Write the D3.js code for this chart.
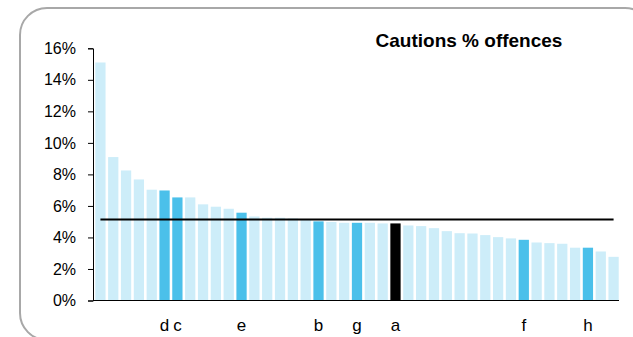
<!DOCTYPE html>
<html>
<head>
<meta charset="utf-8">
<script src="https://cdn.jsdelivr.net/npm/d3@7"></script>
<style>
  html, body { margin: 0; padding: 0; background: #fff; }
  svg { display: block; font-family: "Liberation Sans", Arial, sans-serif; }
</style>
</head>
<body>
<svg id="chart" width="633" height="337"></svg>
<script>
// ---- data ----
const values = [15.1, 9.1, 8.25, 7.68, 7.03, 6.98, 6.54, 6.54, 6.10, 5.95, 5.82, 5.57, 5.33, 5.25, 5.25, 5.21, 5.16,
  5.02, 4.98, 4.93, 4.93, 4.93, 4.89, 4.89, 4.76, 4.72, 4.59, 4.40, 4.27, 4.25, 4.15, 4.02, 3.94, 3.85, 3.68, 3.64,
  3.60, 3.35, 3.35, 3.11, 2.77];
const labels = ["", "", "", "", "", "d", "c", "", "", "", "", "e", "", "", "", "", "",
  "b", "", "", "g", "", "", "a", "", "", "", "", "", "", "", "", "", "f", "", "",
  "", "", "h", "", ""];
const averageValue = 5.14;
const yTicks = [0, 2, 4, 6, 8, 10, 12, 14, 16];
const title = "Cautions % offences";

// ---- drawing ----
const svg = d3.select("#chart");
svg.append("rect").attr("x", 20).attr("y", 8).attr("width", 632).attr("height", 332)
  .attr("rx", 27).attr("ry", 27).attr("fill", "#fff").attr("stroke", "#a8a8a8").attr("stroke-width", 2);

const idx = d3.range(values.length);
const x = d3.scaleBand().domain(idx).range([94, 620]).paddingInner(0.2).paddingOuter(0.1);
const y = d3.scaleLinear().domain([0, 16]).range([300.5, 48.3]);

const colorFor = i => labels[i] === "a" ? "#000000" : (labels[i] !== "" ? "#4BC0EA" : "#CDEDF9");

svg.append("g").selectAll("rect").data(idx).join("rect")
  .attr("x", i => x(i)).attr("width", x.bandwidth())
  .attr("y", i => y(values[i])).attr("height", i => y(0) - y(values[i]))
  .attr("fill", colorFor);

// average line
svg.append("line")
  .attr("x1", x(0) + x.bandwidth() / 2).attr("x2", x(values.length - 1) + x.bandwidth() / 2)
  .attr("y1", y(averageValue)).attr("y2", y(averageValue))
  .attr("stroke", "#000").attr("stroke-width", 2);

// y axis
const yAxis = svg.append("g").attr("transform", "translate(93,0)")
  .call(d3.axisLeft(y).tickValues(yTicks).tickFormat(d => d + "%").tickSize(5).tickSizeOuter(5).tickPadding(12));
yAxis.selectAll("text").attr("font-size", 16).attr("fill", "#000").attr("font-family", "Liberation Sans, Arial, sans-serif");
yAxis.selectAll("line, path").attr("stroke", "#000");

// x baseline
svg.append("line").attr("x1", 93).attr("x2", 619).attr("y1", y(0)).attr("y2", y(0))
  .attr("stroke", "#000").attr("stroke-width", 1);

// category labels
svg.append("g").selectAll("text").data(idx.filter(i => labels[i] !== "")).join("text")
  .attr("x", i => x(i) + x.bandwidth() / 2).attr("y", 331)
  .attr("text-anchor", "middle").attr("font-size", 17).attr("fill", "#000")
  .text(i => labels[i]);

// title
svg.append("text").attr("x", 469).attr("y", 47).attr("text-anchor", "middle")
  .attr("font-size", 19).attr("font-weight", "bold").attr("fill", "#000").text(title);
</script>
</body>
</html>
